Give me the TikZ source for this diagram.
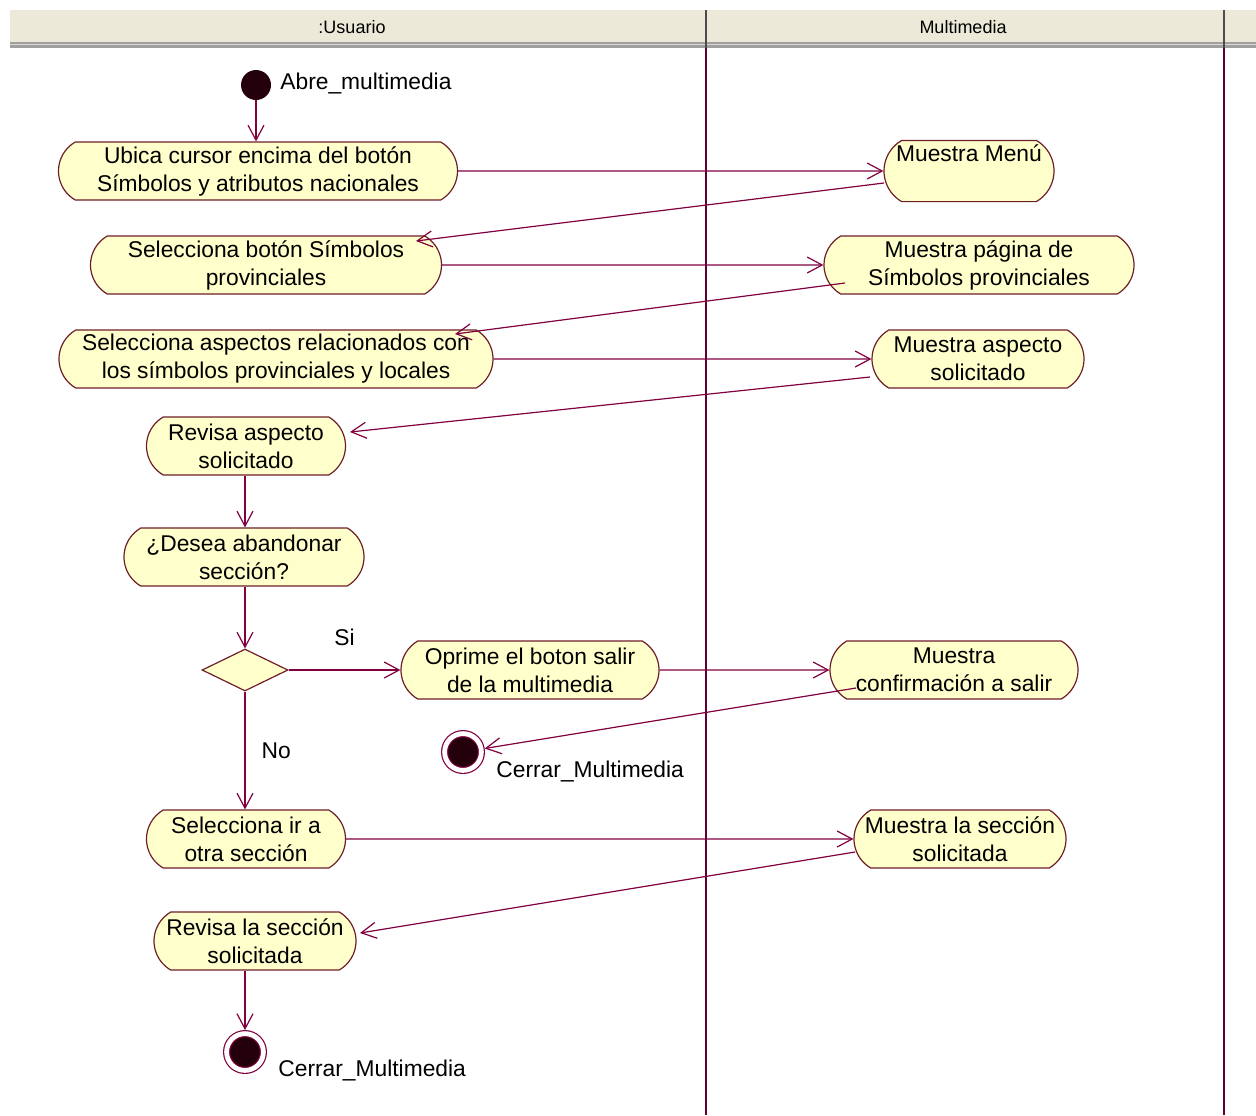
\documentclass[tikz,border=0pt]{standalone}
\usepackage{fontspec}
\setmainfont{Liberation Sans}
\usetikzlibrary{calc, arrows.meta, shapes.misc, shapes.geometric, positioning}
\definecolor{roseLinea}{RGB}{128,0,64}
\definecolor{roseBorde}{RGB}{110,30,40}
\definecolor{roseFondo}{RGB}{255,255,204}
\definecolor{roseNegro}{RGB}{35,0,12}
\definecolor{roseCabecera}{RGB}{236,233,216}
\tikzset{
    actividad/.style={rounded rectangle, rounded rectangle arc length=120, draw=roseBorde, fill=roseFondo, semithick,
        minimum height=29pt, inner sep=2pt, align=center, font=\fontsize{11.4}{14}\selectfont},
    decision/.style={diamond, draw=roseBorde, fill=roseFondo, semithick, minimum width=43pt, minimum height=21pt, inner sep=0pt},
    inicio/.style={circle, fill=roseNegro, minimum size=15pt, inner sep=0pt},
    fin/.style={circle, fill=roseNegro, draw=roseLinea, semithick, double=white, double distance=2.4pt, minimum size=18.4pt, inner sep=0pt, outer sep=1.8pt},
    flujo/.style={draw=roseLinea, semithick, -{Straight Barb[length=7.5pt,width=8pt]}},
    etiqueta/.style={inner sep=0pt, font=\fontsize{11.4}{14}\selectfont},
    titulo/.style={inner sep=0pt, font=\fontsize{9}{10}\selectfont},
    carril/.style={draw=roseLinea!75!black, semithick}
}

\begin{document}
\begin{tikzpicture}[x=0.5pt, y=-0.5pt]
    \useasboundingbox (0,0) rectangle (1256,1115);

    % Swimlane header
    \fill[roseCabecera] (10,10) rectangle (1256,42);
    \fill[gray!75] (10,42) rectangle (1256,48);
    \draw[gray!30] (10,44.5) -- (1256,44.5);
    \node[titulo] (tUsuario) at (352,27) {:Usuario};
    \node[titulo] (tMultimedia) at (963,27) {Multimedia};

    % Lanes
    \draw[gray!60!black, semithick] (706,10) -- (706,48);
    \draw[gray!60!black, semithick] (1224,10) -- (1224,48);
    \draw[carril] (706,48) -- (706,1115);
    \draw[carril] (1224,48) -- (1224,1115);

    % Usuario
    \node[inicio] (ini) at (256,85) {};
    \node[etiqueta, anchor=west] (iniLbl) at (280,83) {Abre\_multimedia};
    \node[actividad, minimum width=203.5pt] (ubica) at (258,171) {Ubica cursor encima del botón\\Símbolos y atributos nacionales};
    \node[actividad, minimum width=179.5pt] (selBoton) at (266,265) {Selecciona botón Símbolos\\provinciales};
    \node[actividad, minimum width=221pt] (selAspectos) at (276,359) {Selecciona aspectos relacionados con\\los símbolos provinciales y locales};
    \node[actividad, minimum width=103.5pt] (revisa) at (246,446) {Revisa aspecto\\solicitado};
    \node[actividad, minimum width=124pt] (desea) at (244,557) {¿Desea abandonar\\sección?};
    \node[decision] (dec) at (245,670) {};
    \node[actividad, minimum width=133pt] (oprime) at (530,670) {Oprime el boton salir\\de la multimedia};
    \node[fin] (fin1) at (463,752) {};
    \node[etiqueta, anchor=west] (fin1Lbl) at (496,771) {Cerrar\_Multimedia};
    \node[actividad, minimum width=103.5pt] (otra) at (246,839) {Selecciona ir a\\otra sección};
    \node[actividad, minimum width=105pt] (revisaSec) at (255,941) {Revisa la sección\\solicitada};
    \node[fin] (fin2) at (245,1052) {};
    \node[etiqueta, anchor=west] (fin2Lbl) at (278,1070) {Cerrar\_Multimedia};

    % Multimedia
    \node[actividad, minimum width=89pt] (menu) at (969,171) {Muestra Menú\\\strut};
    \node[actividad, minimum width=159pt] (pagina) at (979,265) {Muestra página de\\Símbolos provinciales};
    \node[actividad, minimum width=110pt] (aspecto) at (978,359) {Muestra aspecto\\solicitado};
    \node[actividad, minimum width=128pt] (confirma) at (954,670) {Muestra\\confirmación a salir};
    \node[actividad, minimum width=110pt] (seccion) at (960,839) {Muestra la sección\\solicitada};

    % Transitions
    \draw[flujo] (ini) -- (ini |- ubica.north);
    \draw[flujo] (ubica) -- (menu);
    \draw[flujo] ($(menu.center)+(-85,12)$) -- ($(selBoton.center)+(150,-24)$);
    \draw[flujo] (selBoton) -- (pagina);
    \draw[flujo] ($(pagina.center)+(-134,18)$) -- ($(selAspectos.center)+(179,-25)$);
    \draw[flujo] (selAspectos) -- (aspecto);
    \draw[flujo] ($(aspecto.center)+(-108,18)$) -- ($(revisa.center)+(104,-14)$);
    \draw[flujo] (dec |- revisa.south) -- (dec |- desea.north);
    \draw[flujo] (dec |- desea.south) -- (dec);
    \draw[flujo] (dec) -- node[etiqueta, above=12pt] (si) {Si} (oprime);
    \draw[flujo] (oprime) -- (confirma);
    \draw[flujo] ($(confirma.center)+(-98,18)$) -- (fin1);
    \draw[flujo] (dec) -- node[etiqueta, right=8pt] (no) {No} (dec |- otra.north);
    \draw[flujo] (otra) -- (seccion);
    \draw[flujo] ($(seccion.center)+(-105,13)$) -- ($(revisaSec.center)+(105,-8)$);
    \draw[flujo] (fin2 |- revisaSec.south) -- (fin2);
\end{tikzpicture}
\end{document}
